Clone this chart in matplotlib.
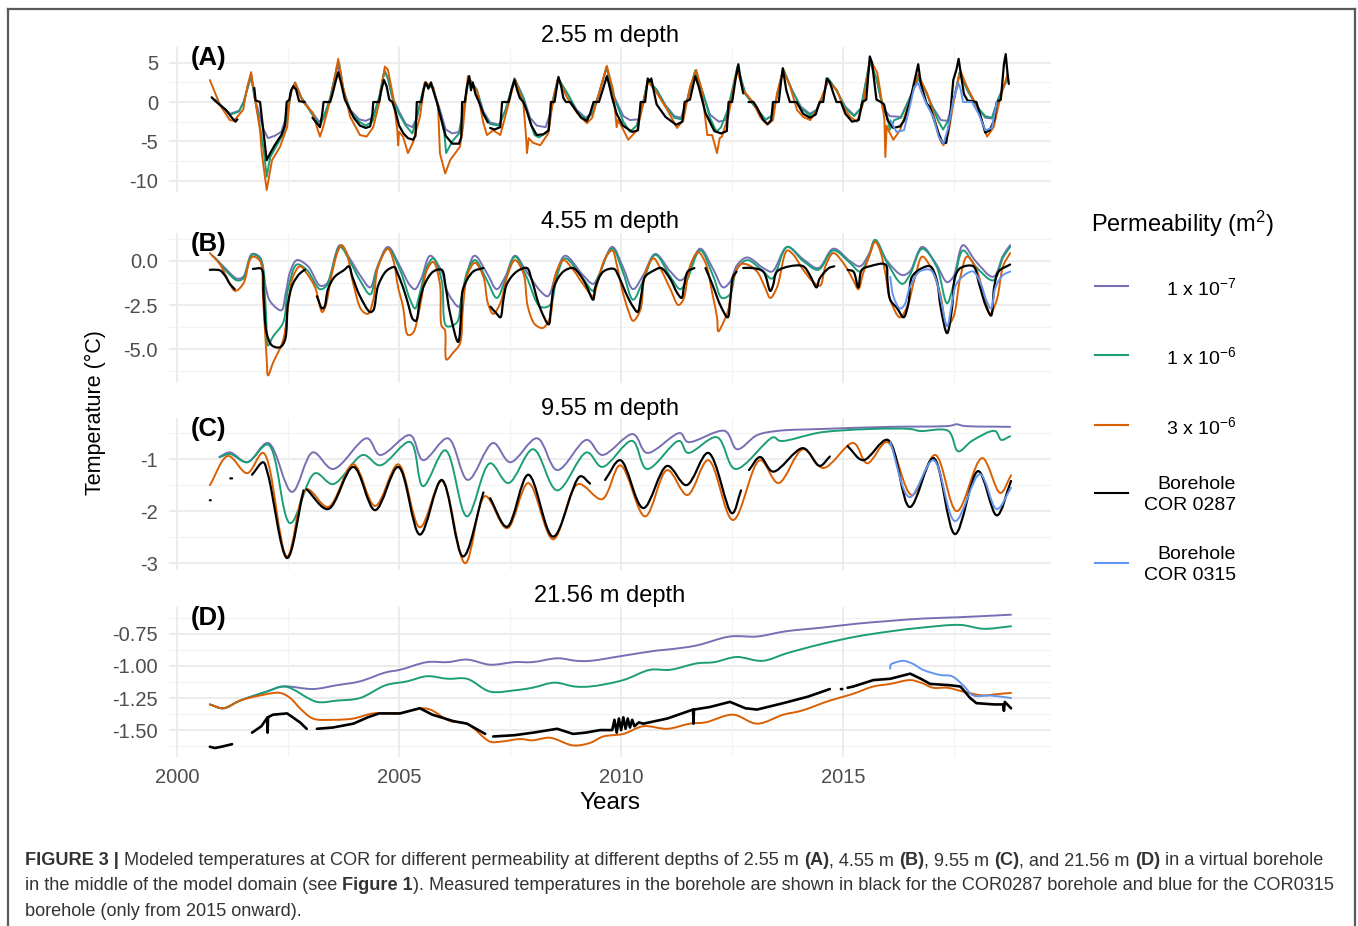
import matplotlib
matplotlib.use('Agg')
import matplotlib.pyplot as plt
import numpy as np
from matplotlib.lines import Line2D
from matplotlib.path import Path
from matplotlib.patches import PathPatch

plt.rcParams['font.family'] = ['Liberation Sans', 'DejaVu Sans']
plt.rcParams['mathtext.default'] = 'regular'

# ---------------- data (year, temperature) ; None = gap ----------------
A_purple = [(2000.86,0.3),(2001.0,-0.5),(2001.2,-1.5),(2001.4,-1.1),(2001.5,0.0),(2001.6,2.0),(2001.67,3.2),(2001.75,0.5),(2001.85,-1.5),(2001.95,-3.5),(2002.05,-4.6),(2002.2,-4.3),(2002.35,-3.8),(2002.45,-2.0),(2002.58,1.5),(2002.66,2.5),(2002.8,0.6),(2003.0,-1.0),(2003.2,-2.5),(2003.3,-2.0),(2003.45,0.5),(2003.62,4.8),(2003.75,1.5),(2003.9,-1.0),(2004.1,-2.2),(2004.25,-2.4),(2004.4,-2.0),(2004.55,0.5),(2004.67,4.0),(2004.75,3.0),(2004.85,0.6),(2005.0,-1.2),(2005.15,-2.8),(2005.3,-3.2),(2005.4,-2.0),(2005.5,0.5),(2005.58,2.4),(2005.75,1.9),(2005.9,-0.6),(2006.05,-3.5),(2006.2,-4.0),(2006.35,-3.8),(2006.45,-1.0),(2006.57,3.0),(2006.75,1.6),(2006.9,-1.2),(2007.05,-2.6),(2007.25,-2.9),(2007.4,-1.0),(2007.6,3.0),(2007.8,0.6),(2007.95,-2.0),(2008.1,-3.0),(2008.3,-3.2),(2008.43,-1.0),(2008.58,3.0),(2008.8,1.0),(2009.0,-1.0),(2009.2,-2.0),(2009.35,-1.4),(2009.5,1.0),(2009.67,4.4),(2009.85,0.6),(2010.05,-1.8),(2010.2,-2.3),(2010.4,-2.2),(2010.5,0.0),(2010.6,2.8),(2010.8,1.6),(2011.0,-0.4),(2011.2,-1.8),(2011.35,-2.0),(2011.5,0.5),(2011.67,4.0),(2011.85,1.0),(2012.0,-1.6),(2012.2,-2.5),(2012.35,-2.3),(2012.45,-0.5),(2012.62,4.5),(2012.8,1.0),(2013.0,-0.5),(2013.25,-2.3),(2013.4,-1.7),(2013.5,0.5),(2013.65,4.2),(2013.85,1.5),(2014.05,-0.6),(2014.25,-1.5),(2014.4,-1.0),(2014.55,0.8),(2014.66,3.0),(2014.85,1.5),(2015.05,-0.6),(2015.25,-1.7),(2015.4,-0.8),(2015.6,5.2),(2015.75,3.0),(2015.9,-0.8),(2016.05,-1.8),(2016.3,-1.9),(2016.5,0.5),(2016.69,3.0),(2016.85,1.5),(2017.0,-0.5),(2017.2,-2.3),(2017.35,-2.4),(2017.5,0.5),(2017.62,3.7),(2017.8,1.5),(2018.0,-0.5),(2018.2,-2.0),(2018.35,-2.1),(2018.5,0.5),(2018.7,3.0)]
A_green = [(2000.86,0.3),(2001.0,-0.5),(2001.2,-1.6),(2001.4,-1.2),(2001.5,0.0),(2001.6,2.0),(2001.67,3.3),(2001.75,0.5),(2001.85,-2.5),(2001.95,-6.0),(2002.02,-9.5),(2002.1,-7.0),(2002.25,-5.5),(2002.4,-4.0),(2002.5,-1.0),(2002.58,1.5),(2002.66,2.4),(2002.8,0.5),(2003.0,-1.2),(2003.15,-2.5),(2003.22,-3.0),(2003.3,-2.0),(2003.45,0.5),(2003.6,4.5),(2003.65,5.0),(2003.75,1.5),(2003.9,-1.2),(2004.1,-2.5),(2004.25,-3.0),(2004.4,-2.5),(2004.55,0.5),(2004.67,4.0),(2004.75,3.0),(2004.85,0.5),(2005.0,-1.5),(2005.15,-3.0),(2005.3,-4.0),(2005.4,-2.0),(2005.5,0.5),(2005.58,2.3),(2005.75,1.8),(2005.9,-0.8),(2006.02,-4.0),(2006.06,-6.5),(2006.2,-5.0),(2006.35,-4.0),(2006.45,-1.5),(2006.57,3.0),(2006.75,1.5),(2006.9,-1.5),(2007.05,-2.8),(2007.25,-3.0),(2007.4,-1.0),(2007.6,3.0),(2007.8,0.5),(2007.95,-2.5),(2008.05,-4.2),(2008.15,-4.5),(2008.35,-3.8),(2008.45,0.0),(2008.58,3.0),(2008.8,1.0),(2009.0,-1.2),(2009.2,-2.2),(2009.35,-1.5),(2009.5,1.0),(2009.67,4.4),(2009.85,0.5),(2010.05,-2.5),(2010.2,-3.8),(2010.35,-3.0),(2010.5,0.0),(2010.6,2.8),(2010.8,1.5),(2011.0,-0.5),(2011.2,-2.0),(2011.35,-2.2),(2011.5,0.5),(2011.67,4.0),(2011.85,1.0),(2012.0,-2.0),(2012.15,-3.8),(2012.25,-3.2),(2012.4,-1.0),(2012.62,4.5),(2012.8,1.0),(2013.0,-0.5),(2013.25,-2.2),(2013.4,-1.8),(2013.5,0.5),(2013.65,4.2),(2013.85,1.5),(2014.05,-0.8),(2014.25,-1.7),(2014.4,-1.0),(2014.55,0.8),(2014.66,3.0),(2014.85,1.5),(2015.05,-0.8),(2015.25,-1.8),(2015.4,-0.8),(2015.6,5.2),(2015.75,3.0),(2015.9,-1.0),(2016.0,-2.0),(2016.05,-3.5),(2016.15,-2.3),(2016.3,-2.0),(2016.5,0.5),(2016.69,3.0),(2016.85,1.5),(2017.0,-0.5),(2017.15,-2.5),(2017.25,-3.5),(2017.4,-2.0),(2017.5,0.5),(2017.62,3.7),(2017.8,1.5),(2018.0,-0.5),(2018.2,-1.8),(2018.35,-2.0),(2018.5,0.5),(2018.7,3.0)]
A_orange = [(2000.74,2.8),(2000.97,-0.4),(2001.19,-2.3),(2001.28,-2.4),(2001.49,-1.0),(2001.58,1.9),(2001.67,3.8),(2001.76,0.3),(2001.87,-3.6),(2001.91,-6.5),(2001.98,-9.5),(2002.02,-11.2),(2002.14,-7.4),(2002.32,-5.7),(2002.48,-3.2),(2002.55,1.1),(2002.66,2.4),(2002.84,0.0),(2003.06,-1.4),(2003.15,-3.2),(2003.22,-4.4),(2003.29,-3.2),(2003.49,1.1),(2003.63,5.5),(2003.74,1.9),(2003.9,-1.9),(2004.12,-4.2),(2004.27,-4.4),(2004.42,-3.2),(2004.57,0.3),(2004.68,4.5),(2004.75,4.1),(2004.87,0.6),(2004.96,-3.6),(2004.98,-5.5),(2005.0,-3.8),(2005.09,-4.4),(2005.2,-6.5),(2005.31,-5.2),(2005.47,-1.9),(2005.58,2.5),(2005.77,1.9),(2005.88,-0.6),(2005.92,-6.5),(2005.96,-7.4),(2006.04,-9.1),(2006.15,-7.4),(2006.37,-5.7),(2006.44,-3.2),(2006.55,3.3),(2006.76,1.3),(2006.9,-2.7),(2006.98,-4.2),(2007.12,-3.6),(2007.28,-4.2),(2007.43,-1.0),(2007.61,2.9),(2007.8,-0.2),(2007.86,-4.4),(2007.88,-6.5),(2007.92,-4.6),(2008.02,-5.2),(2008.18,-5.5),(2008.36,-4.0),(2008.47,0.3),(2008.58,3.0),(2008.78,0.6),(2009.01,-1.4),(2009.23,-2.7),(2009.35,-2.0),(2009.46,0.3),(2009.68,4.6),(2009.82,1.5),(2009.9,-3.2),(2009.93,-2.3),(2010.02,-3.2),(2010.16,-4.8),(2010.36,-3.6),(2010.5,-0.2),(2010.61,2.6),(2010.81,1.1),(2011.04,-1.0),(2011.26,-3.3),(2011.4,-2.3),(2011.55,1.9),(2011.69,4.1),(2011.82,1.5),(2011.94,-4.2),(2012.05,-4.2),(2012.16,-6.5),(2012.22,-4.6),(2012.27,-4.4),(2012.41,-1.9),(2012.61,4.1),(2012.75,1.5),(2012.97,0.0),(2013.13,-1.9),(2013.29,-2.9),(2013.42,-2.3),(2013.51,1.1),(2013.65,4.1),(2013.81,1.9),(2013.96,-1.0),(2014.1,-1.9),(2014.26,-2.3),(2014.41,-1.0),(2014.55,1.1),(2014.66,2.6),(2014.86,1.5),(2015.0,-0.6),(2015.16,-1.9),(2015.31,-2.5),(2015.45,-0.2),(2015.61,5.4),(2015.77,3.7),(2015.88,-0.2),(2015.93,-2.3),(2015.95,-7.0),(2015.98,-3.0),(2016.02,-3.6),(2016.13,-4.8),(2016.28,-3.6),(2016.51,0.3),(2016.69,3.5),(2016.89,1.1),(2017.03,-1.4),(2017.18,-4.8),(2017.26,-5.5),(2017.37,-4.0),(2017.48,-0.2),(2017.64,4.0),(2017.79,1.9),(2018.02,-0.6),(2018.24,-4.4),(2018.39,-3.2),(2018.54,0.6),(2018.7,3.5)]
A_black = [(2000.78,0.6),(2000.85,0.2),(2000.95,-0.3),(2001.1,-1.0),(2001.25,-2.1),(2001.32,-2.5),(2001.36,-2.2),None,
 (2001.74,1.8),(2001.77,0.2),(2001.87,0.0),(2001.93,-3.0),(2001.98,-5.5),(2002.02,-7.4),(2002.1,-6.5),(2002.2,-5.5),(2002.35,-4.2),(2002.43,-3.0),(2002.47,0.0),(2002.53,0.3),(2002.57,1.5),(2002.62,2.0),(2002.68,1.6),(2002.75,0.1),(2002.88,0.0),None,
 (2003.05,-2.0),(2003.15,-2.7),(2003.22,-3.2),(2003.27,-1.5),(2003.3,0.0),(2003.45,0.0),(2003.5,1.0),(2003.58,2.8),(2003.63,3.8),(2003.7,2.3),(2003.78,0.3),(2003.88,-0.8),(2003.98,-2.0),(2004.12,-3.0),(2004.25,-3.3),(2004.35,-3.1),(2004.4,-1.5),(2004.42,0.0),(2004.55,0.0),(2004.6,1.5),(2004.66,2.8),(2004.72,2.0),(2004.78,0.3),(2004.85,0.0),(2004.92,-1.2),(2005.0,-3.0),(2005.1,-4.0),(2005.2,-4.6),(2005.32,-4.8),(2005.37,-4.3),(2005.4,0.0),(2005.5,0.0),(2005.55,1.5),(2005.6,2.5),(2005.66,1.7),(2005.72,2.5),(2005.78,1.3),(2005.85,0.0),(2005.95,-2.2),(2006.05,-4.3),(2006.2,-5.3),(2006.35,-5.3),(2006.4,-4.5),(2006.42,0.0),(2006.48,0.0),(2006.53,2.0),(2006.58,3.3),(2006.62,1.5),(2006.66,2.5),(2006.72,1.0),(2006.8,0.0),(2006.9,-1.5),(2007.0,-2.6),None,
 (2007.05,-3.3),(2007.15,-3.5),(2007.28,-3.2),(2007.32,0.0),(2007.47,0.0),(2007.53,1.5),(2007.6,2.8),(2007.66,1.5),(2007.72,0.5),(2007.8,0.0),(2007.88,-1.2),(2007.98,-3.0),(2008.1,-4.2),(2008.25,-4.1),(2008.37,-3.6),(2008.42,0.0),(2008.5,0.0),(2008.55,1.8),(2008.59,3.2),(2008.65,2.0),(2008.7,0.5),(2008.76,0.0),(2008.85,0.0),(2009.0,-1.2),(2009.1,-2.0),(2009.23,-2.4),(2009.3,-1.5),(2009.38,0.0),(2009.5,0.0),(2009.6,1.8),(2009.68,3.3),(2009.73,2.2),(2009.8,0.5),(2009.9,-1.5),(2010.04,-3.0),(2010.25,-3.8),(2010.38,-3.6),(2010.44,0.0),(2010.54,0.0),(2010.6,3.0),(2010.64,2.6),(2010.68,3.0),(2010.75,1.0),(2010.8,-0.3),(2011.0,-1.9),(2011.24,-2.9),(2011.38,-2.5),(2011.43,0.0),(2011.55,0.3),(2011.67,3.3),(2011.75,1.9),(2011.9,-1.4),(2012.1,-3.7),(2012.25,-4.0),(2012.38,-3.7),(2012.42,0.0),(2012.5,0.0),(2012.58,3.0),(2012.64,4.8),(2012.7,2.5),(2012.75,1.1),None,
 (2012.87,0.0),(2012.98,0.0),(2013.06,-0.7),(2013.2,-2.3),(2013.3,-2.8),(2013.38,-2.3),(2013.42,0.0),(2013.55,0.0),(2013.6,2.5),(2013.64,4.3),(2013.72,1.5),(2013.8,0.0),(2013.95,0.0),(2014.1,-1.5),(2014.25,-2.0),(2014.38,-1.6),(2014.47,0.0),(2014.55,0.0),(2014.63,3.0),(2014.7,2.5),(2014.78,1.1),(2014.85,0.0),(2014.95,0.0),(2015.05,-1.5),(2015.2,-2.5),(2015.35,-2.3),(2015.43,0.0),(2015.52,0.3),(2015.6,5.8),(2015.65,5.0),(2015.75,0.3),(2015.85,0.0),(2015.92,-0.3),(2016.0,-2.3),(2016.13,-3.3),(2016.28,-3.1),(2016.38,-2.3),(2016.5,0.0),(2016.6,2.5),(2016.69,4.8),(2016.75,2.3),(2016.88,-0.2),(2016.95,-0.6),(2017.15,-4.0),(2017.24,-5.2),(2017.32,-5.2),(2017.4,-2.3),(2017.48,2.8),(2017.55,4.1),(2017.6,5.5),(2017.66,3.2),(2017.72,1.0),(2017.8,0.2),(2018.0,0.0),(2018.1,-1.9),(2018.2,-3.9),(2018.3,-3.6),(2018.4,-2.3),(2018.46,0.0),(2018.55,0.3),(2018.62,4.8),(2018.66,6.1),(2018.7,3.7),(2018.73,2.3)]
A_blue = [(2016.06,-2.3),(2016.2,-3.8),(2016.37,-3.6),(2016.5,-0.6),(2016.6,1.9),(2016.69,2.4),(2016.76,1.3),(2016.88,-0.3),(2017.03,-1.9),(2017.15,-4.4),(2017.26,-5.3),(2017.37,-3.2),(2017.48,0.3),(2017.6,2.4),(2017.65,1.5),(2017.7,0.0),(2017.9,0.0),(2018.05,-1.5),(2018.2,-3.6),(2018.35,-3.3),(2018.46,0.0)]

B_purple = [(2000.85,0.2),(2001.12,-0.5),(2001.35,-1.0),(2001.49,-0.9),(2001.69,0.4),(2001.87,0.2),(2002.0,-1.5),(2002.1,-2.3),(2002.35,-2.8),(2002.45,-1.8),(2002.55,-0.6),(2002.7,0.05),(2002.95,-0.3),(2003.22,-1.4),(2003.37,-1.3),(2003.67,0.9),(2003.9,0.1),(2004.12,-0.8),(2004.35,-1.5),(2004.5,-0.4),(2004.75,0.8),(2005.02,-0.3),(2005.25,-1.4),(2005.36,-1.6),(2005.5,-1.0),(2005.7,0.3),(2005.96,-0.6),(2006.1,-1.8),(2006.35,-2.6),(2006.45,-1.6),(2006.7,0.3),(2006.98,-0.7),(2007.2,-1.6),(2007.39,-0.9),(2007.61,0.3),(2007.87,-0.6),(2008.18,-1.7),(2008.35,-2.0),(2008.55,-0.6),(2008.74,0.3),(2009.14,-0.8),(2009.37,-1.3),(2009.5,-0.8),(2009.8,0.8),(2010.05,-0.4),(2010.27,-1.6),(2010.5,-0.8),(2010.77,0.4),(2011.11,-0.6),(2011.33,-1.1),(2011.48,-0.8),(2011.78,0.7),(2012.08,-0.5),(2012.3,-1.5),(2012.45,-1.2),(2012.62,-0.2),(2012.84,0.2),(2013.2,-0.4),(2013.4,-0.6),(2013.74,0.8),(2014.1,0.1),(2014.44,-0.4),(2014.78,0.7),(2015.15,0.0),(2015.38,-0.3),(2015.58,0.4),(2015.72,1.2),(2015.99,0.0),(2016.33,-0.8),(2016.5,-0.6),(2016.78,0.8),(2017.1,-0.2),(2017.34,-1.2),(2017.48,-0.9),(2017.7,0.9),(2017.98,0.0),(2018.38,-0.9),(2018.6,0.3),(2018.76,0.9)]
B_green = [(2000.8,0.3),(2000.9,0.05),(2001.12,-0.6),(2001.35,-1.1),(2001.49,-1.0),(2001.69,0.35),(2001.87,0.15),(2002.0,-2.8),(2002.05,-4.8),(2002.16,-4.3),(2002.39,-3.5),(2002.5,-1.6),(2002.7,-0.2),(2002.92,-0.5),(2003.22,-1.6),(2003.37,-1.4),(2003.67,0.8),(2003.9,-0.05),(2004.12,-1.1),(2004.35,-1.9),(2004.5,-0.5),(2004.75,0.7),(2005.02,-0.5),(2005.25,-2.2),(2005.36,-2.7),(2005.47,-1.8),(2005.63,-0.3),(2005.77,0.15),(2005.96,-1.1),(2006.07,-3.7),(2006.3,-3.5),(2006.4,-2.2),(2006.55,-0.5),(2006.71,0.05),(2006.98,-1.1),(2007.2,-2.1),(2007.39,-1.1),(2007.61,0.25),(2007.87,-0.9),(2008.18,-2.6),(2008.4,-2.5),(2008.55,-0.9),(2008.74,0.15),(2009.14,-1.0),(2009.37,-1.7),(2009.46,-1.1),(2009.8,0.7),(2010.05,-0.7),(2010.27,-2.2),(2010.5,-1.1),(2010.77,0.35),(2011.11,-0.9),(2011.33,-1.6),(2011.48,-1.1),(2011.78,0.6),(2012.08,-0.9),(2012.27,-2.1),(2012.45,-1.9),(2012.6,-0.5),(2012.84,0.05),(2013.2,-0.6),(2013.4,-1.0),(2013.74,0.8),(2014.1,0.0),(2014.44,-0.5),(2014.78,0.6),(2015.15,-0.1),(2015.38,-0.6),(2015.58,0.25),(2015.72,1.2),(2015.99,-0.1),(2016.33,-1.3),(2016.5,-0.8),(2016.78,0.7),(2017.1,-0.3),(2017.34,-2.4),(2017.48,-1.4),(2017.7,0.6),(2017.98,-0.3),(2018.38,-1.1),(2018.6,0.2),(2018.76,0.8)]
B_orange = [(2000.74,0.45),(2000.97,-0.2),(2001.19,-1.3),(2001.31,-1.7),(2001.49,-1.3),(2001.64,0.05),(2001.71,0.25),(2001.87,0.0),(2001.94,-2.2),(2002.02,-5.6),(2002.05,-6.5),(2002.16,-5.8),(2002.39,-4.5),(2002.5,-2.6),(2002.61,-0.9),(2002.77,-0.3),(2002.92,-0.7),(2003.11,-1.5),(2003.27,-2.9),(2003.34,-2.6),(2003.49,-0.7),(2003.63,0.6),(2003.71,0.9),(2003.82,0.45),(2003.97,-1.3),(2004.16,-2.8),(2004.3,-3.0),(2004.42,-2.2),(2004.53,-0.3),(2004.75,0.7),(2004.87,0.05),(2004.98,-1.5),(2005.09,-2.6),(2005.2,-4.2),(2005.31,-4.1),(2005.47,-2.6),(2005.63,-0.5),(2005.77,-0.05),(2005.92,-1.3),(2005.96,-3.7),(2006.03,-3.9),(2006.07,-5.6),(2006.22,-5.2),(2006.37,-4.7),(2006.44,-2.6),(2006.55,-0.7),(2006.71,-0.1),(2006.9,-0.9),(2007.0,-2.4),(2007.12,-3.0),(2007.28,-2.4),(2007.43,-0.9),(2007.61,0.05),(2007.8,-0.7),(2007.9,-2.6),(2008.06,-3.6),(2008.24,-3.8),(2008.4,-3.2),(2008.51,-0.9),(2008.7,0.05),(2008.92,-0.5),(2009.14,-1.3),(2009.37,-2.0),(2009.46,-1.3),(2009.64,0.15),(2009.8,0.6),(2009.91,-0.3),(2010.02,-1.6),(2010.16,-2.8),(2010.27,-3.4),(2010.43,-2.8),(2010.54,-0.7),(2010.73,0.15),(2010.88,-0.4),(2011.11,-1.6),(2011.29,-2.5),(2011.4,-2.2),(2011.55,-0.3),(2011.73,0.5),(2011.9,-0.1),(2012.05,-1.8),(2012.16,-3.2),(2012.19,-4.0),(2012.3,-3.5),(2012.41,-2.8),(2012.52,-1.1),(2012.68,-0.2),(2012.84,-0.2),(2013.06,-0.6),(2013.24,-1.5),(2013.36,-2.1),(2013.51,-1.5),(2013.74,0.6),(2013.88,0.35),(2014.1,-0.5),(2014.33,-1.2),(2014.48,-1.4),(2014.6,-0.3),(2014.78,0.45),(2015.0,-0.1),(2015.23,-1.1),(2015.34,-1.6),(2015.45,-0.7),(2015.61,0.45),(2015.72,1.1),(2015.83,0.6),(2015.95,-0.7),(2016.06,-2.2),(2016.28,-3.2),(2016.44,-2.6),(2016.62,-0.9),(2016.78,0.25),(2016.96,-0.3),(2017.18,-1.8),(2017.34,-3.7),(2017.48,-3.2),(2017.64,-0.9),(2017.79,0.25),(2017.97,-0.3),(2018.2,-2.2),(2018.31,-3.0),(2018.46,-2.2),(2018.6,-0.3),(2018.76,0.45)]
B_black = [(2000.74,-0.5),(2000.9,-0.5),(2000.98,-0.55),(2001.1,-0.9),(2001.19,-1.3),(2001.3,-1.6),None,
 (2001.71,-0.45),(2001.9,-0.45),(2001.95,-2.0),(2002.02,-4.1),(2002.14,-4.8),(2002.32,-4.9),(2002.43,-4.5),(2002.5,-2.4),(2002.61,-1.3),(2002.77,-0.7),(2002.88,-0.5),None,
 (2003.15,-2.0),(2003.27,-2.7),(2003.32,-2.6),(2003.4,-1.6),(2003.55,-0.9),(2003.77,-0.5),(2003.87,-0.3),(2003.95,-0.9),(2004.12,-2.0),(2004.35,-2.9),(2004.42,-2.8),(2004.53,-1.4),(2004.72,-0.55),(2004.9,-0.35),(2004.95,-0.6),(2005.09,-1.5),(2005.2,-2.4),(2005.31,-3.3),(2005.38,-3.4),(2005.47,-2.2),(2005.58,-1.3),(2005.77,-0.6),(2005.96,-0.5),(2006.05,-1.5),(2006.15,-3.0),(2006.33,-4.6),(2006.4,-3.0),(2006.44,-1.6),(2006.67,-0.6),(2006.9,-0.4),None,
 (2007.06,-2.6),(2007.2,-3.0),(2007.28,-3.2),(2007.35,-2.2),(2007.43,-1.3),(2007.65,-0.6),(2007.88,-0.4),(2007.98,-1.0),(2008.18,-2.7),(2008.37,-3.6),(2008.42,-2.7),(2008.5,-1.4),(2008.7,-0.6),(2008.92,-0.4),(2009.05,-0.7),(2009.2,-1.3),(2009.37,-2.2),(2009.42,-1.5),(2009.6,-0.6),(2009.84,-0.45),(2009.95,-0.9),(2010.14,-2.0),(2010.27,-2.6),(2010.37,-2.9),(2010.45,-2.0),(2010.54,-0.9),(2010.73,-0.55),(2010.9,-0.4),(2011.1,-1.0),(2011.26,-1.8),(2011.36,-2.1),(2011.42,-1.4),(2011.5,-0.6),(2011.65,-0.4),None,
 (2011.9,-0.4),(2012.05,-1.3),(2012.25,-2.6),(2012.4,-3.2),(2012.46,-2.2),(2012.52,-0.9),(2012.6,-0.6),None,(2012.75,-0.4),(2012.95,-0.4),(2013.2,-0.6),(2013.36,-1.7),(2013.42,-1.4),(2013.51,-0.6),(2013.8,-0.3),(2014.1,-0.3),(2014.25,-0.8),(2014.4,-1.5),(2014.47,-1.0),(2014.68,-0.4),(2014.8,-0.3),None,
 (2015.1,-0.5),(2015.23,-0.6),(2015.34,-1.5),(2015.42,-0.5),(2015.6,-0.3),(2015.95,-0.2),(2016.0,-1.2),(2016.06,-2.2),(2016.22,-2.7),(2016.36,-3.2),(2016.47,-2.4),(2016.55,-0.9),(2016.78,-0.4),(2016.96,-0.3),(2017.1,-1.0),(2017.2,-2.7),(2017.34,-4.1),(2017.45,-2.7),(2017.52,-0.9),(2017.64,-0.4),(2017.93,-0.3),(2018.06,-1.3),(2018.22,-2.6),(2018.33,-3.1),(2018.4,-1.5),(2018.5,-0.6),(2018.76,-0.2)]
B_blue = [(2016.06,-0.9),(2016.13,-2.0),(2016.28,-2.7),(2016.38,-2.5),(2016.5,-1.5),(2016.72,-0.6),(2016.96,-0.5),(2017.07,-0.9),(2017.2,-2.2),(2017.34,-3.7),(2017.45,-2.4),(2017.55,-1.3),(2017.79,-0.7),(2017.93,-0.6),(2018.1,-1.3),(2018.22,-2.2),(2018.33,-2.7),(2018.43,-1.5),(2018.6,-0.8),(2018.76,-0.6)]

C_purple = [(2000.95,-0.96),(2001.19,-0.87),(2001.58,-1.06),(2002.05,-0.69),(2002.59,-1.63),(2003.06,-0.87),(2003.51,-1.19),(2004.28,-0.6),(2004.57,-0.92),(2005.25,-0.54),(2005.54,-1.02),(2006.1,-0.6),(2006.55,-1.4),(2007.12,-0.69),(2007.5,-1.06),(2008.11,-0.6),(2008.56,-1.21),(2009.23,-0.63),(2009.57,-0.92),(2010.27,-0.52),(2010.58,-0.88),(2011.33,-0.5),(2011.5,-0.67),(2012.34,-0.46),(2012.61,-0.81),(2013.06,-0.54),(2013.5,-0.46),(2014.55,-0.42),(2016.06,-0.38),(2017.4,-0.36),(2017.56,-0.33),(2017.7,-0.36),(2018.76,-0.38)]
C_green = [(2000.97,-0.96),(2001.19,-0.9),(2001.58,-1.06),(2002.05,-0.72),(2002.55,-2.23),(2003.11,-1.27),(2003.51,-1.48),(2004.19,-0.92),(2004.57,-1.12),(2005.25,-0.67),(2005.54,-1.52),(2006.04,-0.83),(2006.53,-2.1),(2007.05,-1.08),(2007.46,-1.46),(2008.02,-0.81),(2008.56,-1.6),(2009.23,-0.87),(2009.57,-1.15),(2010.25,-0.65),(2010.58,-1.19),(2011.31,-0.65),(2011.5,-0.88),(2012.16,-0.58),(2012.57,-1.19),(2013.43,-0.58),(2013.58,-0.65),(2014.55,-0.48),(2016.5,-0.42),(2016.73,-0.46),(2017.37,-0.46),(2017.59,-0.85),(2017.9,-0.65),(2018.42,-0.46),(2018.56,-0.63),(2018.76,-0.56)]
C_orange = [(2000.74,-1.5),(2001.15,-0.94),(2001.58,-1.27),(2001.94,-0.88),(2002.48,-2.87),(2002.92,-1.58),(2003.4,-1.92),(2003.97,-1.1),(2004.46,-1.9),(2004.98,-1.1),(2005.47,-2.31),(2005.96,-1.42),(2006.49,-3.0),(2006.94,-1.71),(2007.43,-2.33),(2007.91,-1.46),(2008.47,-2.54),(2009.03,-1.48),(2009.57,-1.77),(2009.98,-1.12),(2010.54,-2.1),(2011.04,-1.21),(2011.49,-1.69),(2011.96,-1.02),(2012.52,-2.17),(2013.13,-1.02),(2013.54,-1.46),(2014.1,-0.81),(2014.55,-1.17),(2015.23,-0.69),(2015.54,-1.08),(2015.99,-0.67),(2016.55,-1.69),(2017.07,-0.92),(2017.56,-2.0),(2018.13,-0.98),(2018.54,-1.65),(2018.78,-1.31)]
C_black = [(2000.74,-1.79),(2000.76,-1.79),None,(2001.2,-1.37),(2001.24,-1.37),None,(2001.69,-1.3),(2001.94,-1.06),(2002.05,-1.3),(2002.48,-2.9),(2002.85,-1.6),None,(2002.92,-1.58),(2003.4,-1.96),(2003.97,-1.15),(2004.46,-1.98),(2004.98,-1.15),(2005.47,-2.45),(2005.96,-1.4),(2006.44,-2.87),(2006.9,-1.64),None,(2007.05,-1.75),(2007.43,-2.3),(2007.91,-1.3),(2008.47,-2.49),(2009.08,-1.33),(2009.3,-1.47),None,(2009.64,-1.4),(2009.98,-1.02),(2010.5,-1.94),(2011.04,-1.13),(2011.47,-1.5),(2011.96,-0.88),(2012.5,-2.04),(2012.7,-1.6),None,(2012.88,-1.21),(2013.13,-0.96),(2013.42,-1.24),(2014.1,-0.79),(2014.47,-1.13),(2014.7,-0.95),None,(2015.1,-0.75),(2015.45,-1.02),(2016.0,-0.63),(2016.5,-1.92),(2017.03,-0.98),(2017.52,-2.44),(2018.04,-1.23),(2018.46,-2.08),(2018.78,-1.42)]
C_blue = [(2016.06,-0.67),(2016.5,-1.73),(2017.03,-1.02),(2017.52,-2.19),(2018.08,-1.29),(2018.46,-1.96),(2018.78,-1.55)]

D_purple = [(2000.74,-1.30),(2001.04,-1.33),(2001.42,-1.27),(2002.02,-1.2),(2002.39,-1.16),(2003.06,-1.18),(2003.6,-1.15),(2004.12,-1.12),(2004.7,-1.05),(2005.02,-1.03),(2005.63,-0.97),(2006.1,-0.97),(2006.53,-0.95),(2007.05,-0.99),(2007.6,-0.97),(2008.0,-0.97),(2008.57,-0.94),(2009.0,-0.96),(2009.3,-0.96),(2010.05,-0.92),(2010.8,-0.88),(2011.1,-0.87),(2011.7,-0.84),(2012.45,-0.77),(2013.06,-0.77),(2013.7,-0.73),(2014.55,-0.70),(2015.31,-0.67),(2016.0,-0.65),(2016.8,-0.63),(2017.6,-0.62),(2018.78,-0.60)]
D_green = [(2000.74,-1.30),(2001.04,-1.33),(2001.42,-1.27),(2002.02,-1.2),(2002.43,-1.16),(2003.15,-1.28),(2003.6,-1.27),(2004.12,-1.25),(2004.7,-1.15),(2005.18,-1.12),(2005.63,-1.08),(2006.1,-1.1),(2006.53,-1.1),(2007.05,-1.2),(2007.6,-1.19),(2008.0,-1.17),(2008.5,-1.13),(2008.95,-1.16),(2009.3,-1.16),(2010.05,-1.11),(2010.65,-1.03),(2011.1,-1.03),(2011.7,-0.98),(2012.1,-0.97),(2012.6,-0.93),(2013.18,-0.96),(2013.74,-0.9),(2014.5,-0.83),(2015.31,-0.77),(2016.06,-0.73),(2016.8,-0.70),(2017.64,-0.68),(2018.16,-0.71),(2018.78,-0.69)]
D_orange = [(2000.74,-1.30),(2001.04,-1.33),(2001.42,-1.27),(2001.87,-1.23),(2002.32,-1.21),(2002.55,-1.25),(2002.77,-1.33),(2003.06,-1.41),(2003.51,-1.42),(2003.97,-1.41),(2004.41,-1.37),(2004.7,-1.37),(2005.02,-1.37),(2005.47,-1.33),(2005.7,-1.34),(2006.15,-1.43),(2006.53,-1.45),(2007.05,-1.59),(2007.3,-1.59),(2007.73,-1.57),(2008.0,-1.58),(2008.4,-1.56),(2008.92,-1.62),(2009.3,-1.60),(2009.6,-1.55),(2010.05,-1.53),(2010.5,-1.47),(2011.04,-1.49),(2011.55,-1.45),(2011.9,-1.44),(2012.52,-1.38),(2013.06,-1.45),(2013.65,-1.38),(2014.05,-1.35),(2014.7,-1.27),(2015.2,-1.22),(2015.68,-1.16),(2016.06,-1.14),(2016.51,-1.11),(2016.75,-1.13),(2017.03,-1.17),(2017.35,-1.17),(2017.7,-1.20),(2018.16,-1.23),(2018.45,-1.22),(2018.78,-1.21)]
D_black = [(2000.74,-1.63),(2000.85,-1.64),(2001.0,-1.63),(2001.24,-1.61),None,(2001.69,-1.52),(2001.9,-1.47),(2002.04,-1.40),(2002.04,-1.52),(2002.05,-1.40),(2002.16,-1.38),(2002.48,-1.37),(2002.77,-1.44),(2002.92,-1.49),None,(2003.15,-1.49),(2003.51,-1.48),(2003.97,-1.45),(2004.3,-1.40),(2004.55,-1.37),(2005.02,-1.37),(2005.47,-1.33),(2005.75,-1.38),(2006.22,-1.43),(2006.53,-1.45),(2006.94,-1.53),None,(2007.12,-1.55),(2007.6,-1.54),(2008.02,-1.52),(2008.56,-1.49),(2008.92,-1.53),(2009.2,-1.52),(2009.53,-1.50),(2009.8,-1.50),(2009.85,-1.42),(2009.9,-1.52),(2009.95,-1.41),(2010.0,-1.50),(2010.05,-1.40),(2010.1,-1.49),(2010.15,-1.41),(2010.2,-1.48),(2010.25,-1.42),(2010.3,-1.47),(2010.4,-1.44),(2010.5,-1.45),(2011.04,-1.41),(2011.62,-1.34),(2011.63,-1.45),(2011.64,-1.34),(2012.0,-1.32),(2012.45,-1.28),(2012.8,-1.33),(2013.06,-1.34),(2013.65,-1.29),(2014.2,-1.24),(2014.7,-1.18),None,(2014.95,-1.18),(2014.98,-1.18),None,(2015.1,-1.17),(2015.23,-1.16),(2015.68,-1.11),(2016.06,-1.10),(2016.51,-1.06),(2016.75,-1.10),(2016.96,-1.14),(2017.4,-1.15),(2017.64,-1.16),(2017.86,-1.25),(2018.0,-1.29),(2018.4,-1.30),(2018.6,-1.30),(2018.62,-1.35),(2018.64,-1.28),(2018.78,-1.33)]
D_blue = [(2016.06,-1.02),(2016.07,-0.99),(2016.2,-0.97),(2016.36,-0.96),(2016.55,-0.98),(2016.8,-1.03),(2017.18,-1.07),(2017.45,-1.08),(2017.7,-1.15),(2017.93,-1.23),(2018.3,-1.23),(2018.78,-1.25)]

panel_titles = ['2.55 m depth', '4.55 m depth', '9.55 m depth', '21.56 m depth']
panel_letters = ['(A)', '(B)', '(C)', '(D)']
x_ticks = [2000, 2005, 2010, 2015]
legend_labels = ['1 x 10$^{-7}$', '1 x 10$^{-6}$', '3 x 10$^{-6}$', 'Borehole\nCOR 0287', 'Borehole\nCOR 0315']
colors = ['#7570B3', '#1B9E77', '#D95F02', '#000000', '#6495ED']

W, H = 1358, 926
fig = plt.figure(figsize=(W/100, H/100), dpi=100)
def fx(px): return px / W
def fy(py): return 1 - py / H

def split(pts):
    segs, cur = [], []
    for p in pts:
        if p is None:
            if cur: segs.append(cur)
            cur = []
        else:
            cur.append(p)
    if cur: segs.append(cur)
    return segs

def polyline(ax, pts, **kw):
    xs = [np.nan if p is None else p[0] for p in pts]
    ys = [np.nan if p is None else p[1] for p in pts]
    ax.plot(xs, ys, solid_joinstyle='round', solid_capstyle='round', **kw)

def smooth(ax, pts, sx, sy, color, lw, zorder):
    # centripetal Catmull-Rom drawn as cubic Bezier path through the read points
    verts, codes = [], []
    for seg in split(pts):
        P = np.array(seg, dtype=float) * [sx, sy]
        if len(P) < 3:
            verts.append(P[0]); codes.append(Path.MOVETO)
            for q in P[1:]:
                verts.append(q); codes.append(Path.LINETO)
            continue
        E = np.vstack([2 * P[0] - P[1], P, 2 * P[-1] - P[-2]])
        verts.append(P[0]); codes.append(Path.MOVETO)
        for i in range(1, len(E) - 2):
            p0, p1, p2, p3 = E[i - 1], E[i], E[i + 1], E[i + 2]
            d1 = max(np.linalg.norm(p1 - p0) ** 0.5, 1e-6)
            d2 = max(np.linalg.norm(p2 - p1) ** 0.5, 1e-6)
            d3 = max(np.linalg.norm(p3 - p2) ** 0.5, 1e-6)
            b1 = (d1**2 * p2 - d2**2 * p0 + (2*d1**2 + 3*d1*d2 + d2**2) * p1) / (3 * d1 * (d1 + d2))
            b2 = (d3**2 * p1 - d2**2 * p3 + (2*d3**2 + 3*d3*d2 + d2**2) * p2) / (3 * d3 * (d3 + d2))
            verts += [b1, b2, p2]; codes += [Path.CURVE4] * 3
    V = np.array(verts) / [sx, sy]
    ax.add_patch(PathPatch(Path(V, codes), facecolor='none', edgecolor=color, lw=lw,
                           capstyle='round', joinstyle='round', zorder=zorder))

GRID_MAJ = '#EBEBEB'
GRID_MIN = '#F3F3F3'
TICK_C = '#4D4D4D'

panels = [
    dict(top=47, bot=192, ylim=(-11.45, 7.0), maj=[5, 0, -5, -10], lab=['5', '0', '-5', '-10'], minr=[2.5, -2.5, -7.5],
         series=[A_purple, A_green, A_orange, A_black, A_blue], smooth=[False]*5),
    dict(top=233, bot=383, ylim=(-6.93, 1.59), maj=[0, -2.5, -5], lab=['0.0', '-2.5', '-5.0'], minr=[1.25, -1.25, -3.75, -6.25],
         series=[B_purple, B_green, B_orange, B_black, B_blue], smooth=[True]*5),
    dict(top=418, bot=570, ylim=(-3.13, -0.21), maj=[-1, -2, -3], lab=['-1', '-2', '-3'], minr=[-0.5, -1.5, -2.5],
         series=[C_purple, C_green, C_orange, C_black, C_blue], smooth=[True]*5),
    dict(top=607, bot=757, ylim=(-1.71, -0.54), maj=[-0.75, -1.0, -1.25, -1.5], lab=['-0.75', '-1.00', '-1.25', '-1.50'],
         minr=[-0.625, -0.875, -1.125, -1.375, -1.625], series=[D_purple, D_green, D_orange, D_black, D_blue],
         smooth=[True, True, True, False, True]),
]
title_y = [36, 222, 409, 596]

L, R = 169, 1051
xlim = (1999.82, 2019.68)
SX = (R - L) / (xlim[1] - xlim[0])
for i, p in enumerate(panels):
    ax = fig.add_axes([fx(L), fy(p['bot']), fx(R) - fx(L), fy(p['top']) - fy(p['bot'])])
    ax.set_xlim(*xlim)
    ax.set_ylim(*p['ylim'])
    SY = (p['bot'] - p['top']) / (p['ylim'][1] - p['ylim'][0])
    for s in ax.spines.values():
        s.set_visible(False)
    for v in p['minr']:
        ax.axhline(v, color=GRID_MIN, lw=0.9, zorder=0)
    for v in p['maj']:
        ax.axhline(v, color=GRID_MAJ, lw=1.3, zorder=0)
    for v in [2002.5, 2007.5, 2012.5, 2017.5]:
        ax.axvline(v, color=GRID_MIN, lw=0.9, zorder=0)
    for v in x_ticks:
        ax.axvline(v, color=GRID_MAJ, lw=1.3, zorder=0)
    ax.set_yticks(p['maj'])
    ax.set_yticklabels(p['lab'])
    ax.tick_params(axis='y', length=0, pad=8, labelsize=14.5, labelcolor=TICK_C)
    ax.set_xticks(x_ticks)
    if i == 3:
        ax.set_xticklabels([str(t) for t in x_ticks])
        ax.tick_params(axis='x', length=0, pad=8, labelsize=14.5, labelcolor=TICK_C)
    else:
        ax.tick_params(axis='x', length=0, labelbottom=False)
    for k, (s, c) in enumerate(zip(p['series'], colors)):
        lw = 1.6 if k == 3 else 1.4
        if i == 3 and k == 3:
            lw = 1.9
        if p['smooth'][k]:
            smooth(ax, s, SX, SY, c, lw, 2 + k)
        else:
            polyline(ax, s, color=c, lw=lw, zorder=2 + k)
    fig.text(fx(610), fy(title_y[i]), panel_titles[i], fontsize=17, ha='center', va='center', color='black')
    fig.text(fx(191), fy(p['top'] + 11), panel_letters[i], fontsize=18.5, fontweight='bold', ha='left', va='center', color='black')

fig.text(fx(95), fy(413), 'Temperature (°C)', rotation=90, fontsize=15.5, ha='center', va='center')
fig.text(fx(610), fy(803), 'Years', fontsize=17.5, ha='center', va='center')

# legend (manual)
fig.text(fx(1091), fy(224), 'Permeability (m$^2$)', fontsize=17, ha='left', va='center')
leg_y = [286, 355, 425, 493, 563]
for yy, c, lab in zip(leg_y, colors, legend_labels):
    fig.add_artist(Line2D([fx(1095), fx(1128)], [fy(yy), fy(yy)], color=c, lw=1.5, transform=fig.transFigure))
    fig.text(fx(1236), fy(yy + 2), lab, fontsize=14, ha='right', va='center', multialignment='right', linespacing=1.25)

# frame
for seg in [([8, 8], [9, 926]), ([8, 1355], [9, 9]), ([1355, 1355], [9, 926])]:
    fig.add_artist(Line2D([fx(v) for v in seg[0]], [fy(v) for v in seg[1]], color='#5A5A5A', lw=1.6,
                          transform=fig.transFigure))

# caption
renderer = fig.canvas.get_renderer()
CAP = 13.05
CAP_C = '#333333'
def tw(s, bold):
    t = fig.text(0, 0, s, fontsize=CAP, fontweight='bold' if bold else 'normal')
    w = t.get_window_extent(renderer).width
    t.remove()
    return w
space_w = {b: tw('a a', b) - tw('aa', b) for b in (False, True)}

def rich(pieces, x0, y0):
    x = x0
    for s, b in pieces:
        lead = len(s) - len(s.lstrip(' '))
        trail = len(s) - len(s.rstrip(' '))
        core = s.strip(' ')
        x += lead * space_w[b]
        if core:
            t = fig.text(fx(x), fy(y0), core, fontsize=CAP, fontweight='bold' if b else 'normal',
                         color=CAP_C, ha='left', va='baseline')
            x += t.get_window_extent(renderer).width
        x += trail * space_w[b]

rich([('FIGURE 3 |', True), (' Modeled temperatures at COR for different permeability at different depths of 2.55 m ', False),
      ('(A)', True), (', 4.55 m ', False), ('(B)', True), (', 9.55 m ', False), ('(C)', True), (', and 21.56 m ', False),
      ('(D)', True), (' in a virtual borehole', False)], 25, 865)
rich([('in the middle of the model domain (see ', False), ('Figure 1', True),
      ('). Measured temperatures in the borehole are shown in black for the COR0287 borehole and blue for the COR0315', False)], 25, 890)
rich([('borehole (only from 2015 onward).', False)], 25, 916)

fig.savefig('out.png', dpi=100)
